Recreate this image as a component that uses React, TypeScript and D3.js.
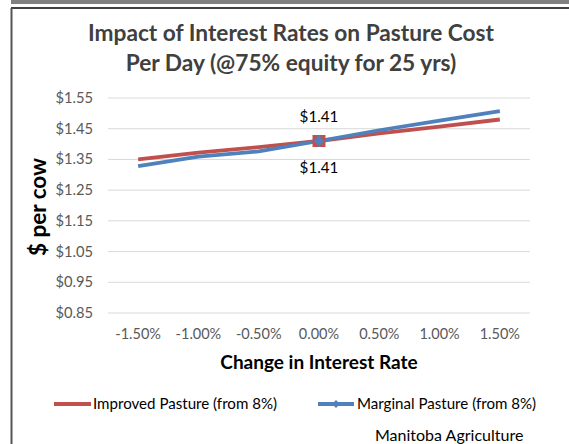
import React from "react";
import { scalePoint, scaleLinear, line } from "d3";

const categories = ["-1.50%", "-1.00%", "-0.50%", "0.00%", "0.50%", "1.00%", "1.50%"];
const improved = [1.35, 1.372, 1.39, 1.41, 1.435, 1.457, 1.48];
const marginal = [1.328, 1.359, 1.376, 1.41, 1.445, 1.476, 1.507];
const yTicks = [0.85, 0.95, 1.05, 1.15, 1.25, 1.35, 1.45, 1.55];

const W = 569;
const H = 444;
const font = "Lato, 'Open Sans', sans-serif";
const red = "#C0504D";
const blue = "#4F81BD";

export default function App() {
  const x = scalePoint<string>().domain(categories).range([108, 530]).padding(0.5);
  const y = scaleLinear().domain([0.85, 1.55]).range([313, 98]);

  const gen = line<number>()
    .x((_, i) => x(categories[i]) as number)
    .y(d => y(d));

  const mid = 3;
  const mx = x(categories[mid]) as number;
  const ry = y(improved[mid]);
  const by = y(marginal[mid]);

  return (
    <svg width={W} height={H} style={{ position: "absolute", left: 0, top: 0 }}>
      <rect x={0} y={0} width={W} height={H} fill="#fff" />
      <rect x={11} y={0} width={W - 11} height={2} fill="#808080" />
      <line x1={11} x2={W} y1={3} y2={3} stroke="#000" strokeWidth={1} />
      <line x1={11} x2={W} y1={8} y2={8} stroke="#000" strokeWidth={1.5} />
      <line x1={11.5} x2={11.5} y1={8} y2={H} stroke="#555" strokeWidth={2} />

      <text x={291} y={41} textAnchor="middle" fontFamily={font} fontWeight="bold" fontSize={22.7} fill="#404040">
        Impact of Interest Rates on Pasture Cost
      </text>
      <text x={291} y={71} textAnchor="middle" fontFamily={font} fontWeight="bold" fontSize={22.7} fill="#404040">
        Per Day (@75% equity for 25 yrs)
      </text>

      {yTicks.map(t => (
        <g key={t}>
          <line x1={108} x2={530} y1={y(t)} y2={y(t)} stroke="#d9d9d9" strokeWidth={1} />
          <text x={93} y={y(t) + 5} textAnchor="end" fontFamily={font} fontSize={14.7} fill="#595959">
            ${t.toFixed(2)}
          </text>
        </g>
      ))}

      {categories.map(c => (
        <text key={c} x={x(c)} y={339} textAnchor="middle" fontFamily={font} fontSize={14.5} fill="#595959">
          {c}
        </text>
      ))}

      <text x={319} y={369} textAnchor="middle" fontFamily={font} fontWeight="bold" fontSize={19} fill="#000">
        Change in Interest Rate
      </text>
      <text transform={`translate(46,207) rotate(-90)`} textAnchor="middle" fontFamily={font} fontWeight="bold" fontSize={22.5} fill="#000">
        $ per cow
      </text>

      <path d={gen(improved) ?? ""} fill="none" stroke={red} strokeWidth={3.8} />
      <path d={gen(marginal) ?? ""} fill="none" stroke={blue} strokeWidth={3.8} />

      <rect x={mx - 6.5} y={ry - 6} width={13} height={12} fill={red} />
      <path d={`M${mx},${by - 6}L${mx + 5},${by}L${mx},${by + 6}L${mx - 5},${by}Z`} fill={blue} />
      <text x={mx} y={ry - 19} textAnchor="middle" fontFamily={font} fontSize={15.2} fill="#000">
        ${improved[mid].toFixed(2)}
      </text>
      <text x={mx} y={by + 32} textAnchor="middle" fontFamily={font} fontSize={15.2} fill="#000">
        ${marginal[mid].toFixed(2)}
      </text>

      <line x1={54} x2={91} y1={404} y2={404} stroke={red} strokeWidth={3.8} />
      <text x={93} y={409} fontFamily={font} fontSize={15.1} fill="#000">Improved Pasture (from 8%)</text>
      <line x1={318} x2={354} y1={404} y2={404} stroke={blue} strokeWidth={3.8} />
      <path d="M336,400L340,404L336,408L332,404Z" fill={blue} />
      <text x={357} y={409} fontFamily={font} fontSize={15.1} fill="#000">Marginal Pasture (from 8%)</text>

      <text x={375} y={441} fontFamily={font} fontSize={16} fill="#000">Manitoba Agriculture</text>
    </svg>
  );
}
